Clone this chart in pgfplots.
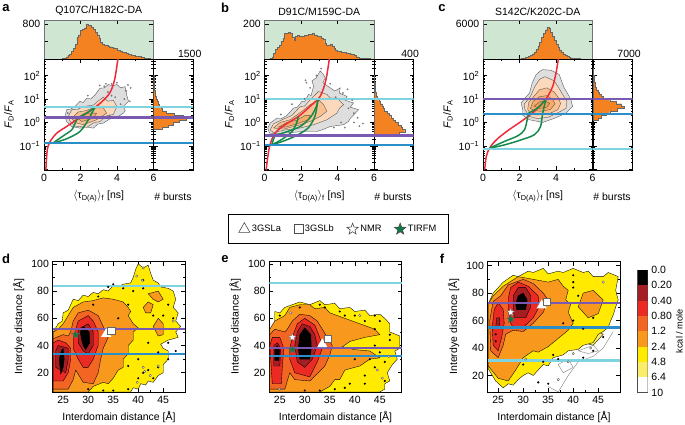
\documentclass[border=0pt]{standalone}
\usepackage{fontspec}
\setmainfont{Liberation Sans}
\usepackage{pgfplots}
\pgfplotsset{compat=1.18}
\usetikzlibrary{plotmarks}
\definecolor{histor}{HTML}{F58220}
\definecolor{histgr}{HTML}{CFE6D3}
\definecolor{cyanl}{HTML}{7FD3E0}
\definecolor{purpl}{HTML}{7A5AB0}
\definecolor{bluel}{HTML}{2A8FC8}
\definecolor{greenl}{HTML}{158A4A}
\definecolor{redl}{HTML}{EE2A3A}
\definecolor{starg}{HTML}{0B7A45}
\definecolor{lvA}{HTML}{FFEA00}
\definecolor{lvB}{HTML}{F8991D}
\definecolor{lvC}{HTML}{F26522}
\definecolor{lvD}{HTML}{EC2A24}
\definecolor{lvE}{HTML}{A51E22}
\definecolor{lvP}{HTML}{F9ED69}
\pgfdeclareplotmark{fstar}{%
  \pgfpathmoveto{\pgfpointpolar{90}{\pgfplotmarksize}}%
  \pgfpathlineto{\pgfpointpolar{126}{.42\pgfplotmarksize}}%
  \pgfpathlineto{\pgfpointpolar{162}{\pgfplotmarksize}}%
  \pgfpathlineto{\pgfpointpolar{198}{.42\pgfplotmarksize}}%
  \pgfpathlineto{\pgfpointpolar{234}{\pgfplotmarksize}}%
  \pgfpathlineto{\pgfpointpolar{270}{.42\pgfplotmarksize}}%
  \pgfpathlineto{\pgfpointpolar{306}{\pgfplotmarksize}}%
  \pgfpathlineto{\pgfpointpolar{342}{.42\pgfplotmarksize}}%
  \pgfpathlineto{\pgfpointpolar{18}{\pgfplotmarksize}}%
  \pgfpathlineto{\pgfpointpolar{54}{.42\pgfplotmarksize}}%
  \pgfpathclose\pgfusepathqfillstroke}
\newcommand{\fs}{\fontsize{10.5}{12}\selectfont}
\newcommand{\fdfa}{\textit{F}\textsubscript{D}/\textit{F}\textsubscript{A}}
\newcommand{\logminors}{0.02,0.03,0.04,0.05,0.06,0.07,0.08,0.09,0.2,0.3,0.4,0.5,0.6,0.7,0.8,0.9,2,3,4,5,6,7,8,9,20,30,40,50,60,70,80,90,200,300,400,500}
\pgfplotsset{
  every axis/.append style={scale only axis,anchor=south west,
    tick align=inside,line width=.9pt,
    /pgf/number format/assume math mode=true,/pgf/number format/1000 sep={},
    major tick length=4pt,minor tick length=2pt,
    tick style={line width=.6pt,black},
    tick label style={font=\fs},label style={font=\fs},title style={font=\fs}},
  pmain/.style={width=109.5pt,height=111pt,xmin=0,xmax=6,ymin=0.0093,ymax=514,
    xtick={0,2,4,6},minor x tick num=1,minor ytick/.expand once=\logminors,
    ytick={0.01,0.1,1,10,100},yticklabels={,10\textsuperscript{−1},10\textsuperscript{0},10\textsuperscript{1},10\textsuperscript{2}},
    ylabel={\fdfa},ylabel style={yshift=-1pt},
    xlabel={$\langle$τ\textsubscript{D(A)}$\rangle$\textsubscript{f} [ns]},xlabel style={yshift=-2pt}},
  ptop/.style={width=109.5pt,height=39pt,xmin=0,xmax=6,ymin=0,
    axis background/.style={fill=histgr},axis line style={draw=black!55},
    xtick={2,4},xticklabels={},minor tick length=0pt,title style={yshift=-5pt}},
  pright/.style={width=39.5pt,height=111pt,xmin=0,ymin=0.0093,ymax=514,minor ytick/.expand once=\logminors,
    yticklabels={},ytick={0.01,0.1,1,10,100},xticklabel pos=upper,x tick style={draw=none},
    xticklabel style={yshift=-2pt},ytick pos=both},
  plow/.style={width=132.5pt,height=130.5pt,xmin=22.9,xmax=49.4,ymin=5.9,ymax=101.7,
    xtick={25,30,35,40,45},ytick={20,40,60,80,100},minor x tick num=1,minor y tick num=1,
    xlabel={Interdomain distance [Å]},ylabel={Interdye distance [Å]},
    ylabel style={yshift=0pt},xlabel style={yshift=-1pt}},
  phist/.style={const plot,fill=histor,draw=black!60,line width=.4pt},
  rhist/.style={fill=histor,draw=black!60,line width=.4pt},
  redc/.style={smooth,draw=redl,line width=1.5pt},
  grec/.style={smooth,draw=greenl,line width=1.5pt},
  hs/.style={fill=#1,draw=none},
  c1/.style={fill=black!13,draw=black!65,line width=.4pt},
  c2/.style={fill=histor!30,draw=black!65,line width=.4pt},
  c3/.style={fill=histor!50,draw=black!65,line width=.4pt},
  c4/.style={fill=histor!68,draw=black!65,line width=.4pt},
  c5/.style={fill=histor!78,draw=black!65,line width=.4pt},
  spk/.style={only marks,mark=*,mark size=.7pt,mark options={draw=black!60,fill=black!25,line width=.3pt}},
  band/.style={fill=#1,draw=black,line width=.35pt},
  bspk/.style={only marks,mark=*,mark size=.55pt,mark options={fill=black,draw=black}},
  wspk/.style={only marks,mark=*,mark size=1.2pt,mark options={fill=white,draw=black!70,line width=.35pt}},
  mtri/.style={only marks,mark=triangle*,mark size=5pt,mark options={fill=white,draw=white}},
  msqr/.style={only marks,mark=square*,mark size=3.6pt,mark options={fill=white,draw=black!60,line width=.3pt}},
  mstw/.style={only marks,mark=fstar,mark size=4.2pt,mark options={fill=white,draw=black!60,line width=.3pt}},
  mstg/.style={only marks,mark=fstar,mark size=4.2pt,mark options={fill=starg,draw=black!60,line width=.3pt}},
}
\begin{document}
\begin{tikzpicture}
\path[use as bounding box] (0pt,0pt) rectangle (685pt,425pt);
\foreach \l/\x/\y in {a/6/417,b/225/417,c/442/417,d/6/166,e/225/166,f/442/166}{\node[font=\bfseries\fontsize{13}{14}\selectfont,inner sep=0pt] at (\x pt,\y pt) {\l};}
\foreach \x in {173,393,612}{\node[font=\fs,inner sep=0pt] at (\x pt,228pt) {\# bursts};}

% ----- panel a
\begin{axis}[ptop,at={(44pt,366pt)},ymax=890,ytick={400,800},yticklabels={,800},title={Q107C/H182C-DA}]
\addplot[phist] coordinates {(0.9,0)(1.0,10)(1.1,25)(1.2,50)(1.3,80)(1.4,110)(1.5,170)(1.6,250)(1.7,340)(1.8,490)(1.9,550)(2.0,650)(2.1,680)(2.2,710)(2.3,800)(2.4,770)(2.5,760)(2.6,720)(2.7,670)(2.8,610)(2.9,550)(3.0,480)(3.1,380)(3.2,340)(3.3,320)(3.4,310)(3.5,300)(3.6,280)(3.7,265)(3.8,255)(3.9,235)(4.0,210)(4.1,190)(4.2,170)(4.3,155)(4.4,145)(4.5,125)(4.6,110)(4.7,100)(4.8,90)(4.9,80)(5.0,65)(5.1,60)(5.2,55)(5.3,40)(5.4,30)(5.5,22)(5.6,15)(5.7,10)(5.8,5)(5.9,3)(6.0,0)} \closedcycle;
\end{axis}
\begin{semilogyaxis}[pmain,at={(44pt,255pt)}]
\addplot[c1] coordinates {(1.15,1.8)(1.24,3.5)(1.45,3.7)(1.7,4.8)(1.97,8)(2.15,7)(2.34,11)(2.55,10)(2.8,15)(2.95,22)(3.07,29)(3.3,30)(3.53,42)(3.75,36)(3.99,42)(4.2,30)(4.44,34)(4.53,15)(4.63,8)(4.35,4.8)(4.45,3.2)(4.35,2.5)(3.9,1.5)(3.6,1.4)(3.25,.94)(2.95,.85)(2.7,.57)(2.3,.65)(1.97,.57)(1.52,.67)(1.24,1.1)} --cycle;
\addplot[c2] coordinates {(1.33,1.8)(1.52,3.5)(1.85,3.6)(2.16,4.8)(2.7,5.5)(2.95,8)(3.25,12)(3.5,8)(3.8,9)(3.99,4.8)(3.8,2.2)(3.4,1.9)(3.07,1.1)(2.7,.95)(2.34,.62)(1.7,.7)(1.43,1.1)} --cycle;
\addplot[c3] coordinates {(1.52,1.5)(1.88,2.8)(2.3,3.2)(2.7,4.2)(3.25,4.2)(3.43,2.5)(2.88,1.3)(2.16,.8)(1.7,1)} --cycle;
\addplot[c4] coordinates {(1.8,1.6)(2.25,2.5)(2.88,2.5)(2.7,1.5)(2.07,1.1)} --cycle;
\addplot[spk] coordinates {(3.5,20)(3.9,12)(4.4,10)(4.6,40)(4.75,30)(3.4,45)(3.7,45)(3.7,14)(4.2,6)(1.3,2.5)(3.6,2)(4.7,8)(3.05,38)(2.4,14)(4,50)(3.3,35)(4.5,22)};
\addplot[redc] coordinates {(.1,.0095)(.18,.067)(.33,.15)(.7,.35)(1.24,.67)(1.78,1.3)(2.33,2.5)(3.05,6.3)(3.6,18)(3.87,68)(4.05,514)};
\addplot[grec] coordinates {(.48,.13)(1.24,.2)(1.97,.41)(2.43,1.3)(2.62,2.5)(2.8,4.5)};
\addplot[grec] coordinates {(.48,.13)(1.15,.3)(1.52,.48)(1.75,1.1)(1.83,1.53)};
\addplot[grec] coordinates {(1.83,1.53)(2.34,2.5)(2.8,4.5)};
\addplot[hs=cyanl] coordinates {(0,4.01)(6,4.01)(6,5.05)(0,5.05)} --cycle;
\addplot[hs=purpl] coordinates {(0,1.43)(6,1.43)(6,1.8)(0,1.8)} --cycle;
\addplot[hs=bluel] coordinates {(0,.116)(6,.116)(6,.146)(0,.146)} --cycle;
\end{semilogyaxis}
\begin{semilogyaxis}[pright,at={(153.5pt,255pt)},xmax=1636,xtick={1500}]
\addplot[rhist] coordinates {(0,.5)(340,.5)(340,.63)(610,.63)(610,.79)(820,.79)(820,1)(1060,1)(1060,1.26)(1364,1.26)(1364,1.58)(1230,1.58)(1230,2)(850,2)(850,2.5)(545,2.5)(545,3.16)(380,3.16)(380,4)(300,4)(300,5)(245,5)(245,6.3)(190,6.3)(190,7.9)(136,7.9)(136,10)(110,10)(110,12.6)(80,12.6)(80,15.8)(70,15.8)(70,20)(55,20)(55,25)(40,25)(40,32)(27,32)(27,50)(14,50)(14,63)(10,63)(10,100)(0,100)} --cycle;
\addplot[hs=cyanl] coordinates {(0,4.01)(1636,4.01)(1636,5.05)(0,5.05)} --cycle;
\addplot[hs=purpl] coordinates {(0,1.43)(1636,1.43)(1636,1.8)(0,1.8)} --cycle;
\addplot[hs=bluel] coordinates {(0,.116)(1636,.116)(1636,.146)(0,.146)} --cycle;
\end{semilogyaxis}

% ----- panel b
\begin{axis}[ptop,at={(264.5pt,366pt)},ymax=222,ytick={100,200},yticklabels={,200},title={D91C/M159C-DA}]
\addplot[phist] coordinates {(0.2,0)(0.3,5)(0.4,12)(0.5,33)(0.6,55)(0.7,66)(0.8,78)(0.9,100)(1.0,117)(1.1,145)(1.2,145)(1.3,150)(1.4,145)(1.5,122)(1.6,105)(1.7,128)(1.8,133)(1.9,131)(2.0,128)(2.1,130)(2.2,133)(2.3,135)(2.4,139)(2.5,140)(2.6,145)(2.7,138)(2.8,133)(2.9,130)(3.0,128)(3.1,120)(3.2,111)(3.3,90)(3.4,78)(3.5,80)(3.6,83)(3.7,70)(3.8,61)(3.9,50)(4.0,44)(4.1,42)(4.2,40)(4.3,39)(4.4,39)(4.5,35)(4.6,32)(4.7,30)(4.8,28)(4.9,20)(5.0,13)(5.1,9)(5.2,7)(5.3,5)(5.4,5)(5.5,3)(5.6,2)(5.8,1)(6,0)} \closedcycle;
\end{axis}
\begin{semilogyaxis}[pmain,at={(264.5pt,255pt)}]
\addplot[c1] coordinates {(.18,.58)(.31,.94)(.68,1.53)(.95,1.5)(1.22,1.98)(1.59,4.1)(1.8,4.5)(2.05,8)(2.2,7.5)(2.41,15.8)(2.55,14)(2.69,35)(2.6,60)(2.83,80)(3.05,160)(3.2,120)(3.33,80)(3.2,50)(3.6,30)(3.85,22)(4.15,30)(4.1,18)(4.52,13)(4.4,9)(4.88,6.8)(4.7,4.5)(5.16,3.5)(4.7,1.5)(4.6,1.1)(4.33,.8)(3.6,.67)(3.2,.5)(2.87,.41)(2.14,.41)(1.41,.37)(.68,.33)(.27,.35)} --cycle;
\addplot[c2] coordinates {(.31,.48)(.49,.87)(1.04,1.39)(1.5,1.98)(1.96,4.8)(2.2,5)(2.5,9.3)(2.96,21)(3.42,15.8)(3.6,11)(3.97,11)(4.33,5.7)(4.1,4)(3.97,2.5)(3.42,1.3)(2.69,.8)(1.96,.58)(1.13,.48)(.49,.37)} --cycle;
\addplot[c3] coordinates {(.49,.58)(.86,1)(1.41,1.3)(2.05,3)(2.5,5.7)(2.96,9.3)(3.24,5.7)(3.42,3)(3.05,1.8)(2.5,1.1)(1.77,.72)(1.04,.52)} --cycle;
\addplot[c4] coordinates {(.77,.63)(1.22,1)(1.77,1.24)(2.23,2)(2.5,2)(2.41,1.3)(1.77,.87)(1.13,.63)} --cycle;
\addplot[spk] coordinates {(2.3,50)(2.5,30)(2.85,100)(3.1,200)(3.4,100)(3.9,12)(4.3,18)(4.8,9)(4.9,2.5)(5.1,1.6)(4.6,4)(4.2,1)(3.8,.6)(5.2,.7)(2.2,10)(1.5,6)(2.25,63)(3.6,45)(4.55,26)(4.9,1)(5.4,.9)(4.4,.6)(.9,2.2)};
\addplot[redc] coordinates {(.09,.0095)(.27,.09)(.58,.35)(1.13,.8)(1.86,1.8)(2.5,4.9)(3.05,13)(3.36,63)(3.55,514)};
\addplot[grec] coordinates {(.4,.11)(1.04,.16)(1.77,.28)(2.41,.6)(2.78,2)(2.92,10)};
\addplot[grec] coordinates {(.58,.28)(1.3,.42)(2,.7)(2.55,1.8)(2.85,5)(2.95,10)};
\addplot[grec] coordinates {(.4,.11)(.5,.2)(.58,.28)};
\addplot[grec] coordinates {(.4,.11)(1,.2)(1.5,.4)(1.75,.9)(1.85,1.8)};
\addplot[hs=cyanl] coordinates {(0,8.9)(6,8.9)(6,11.2)(0,11.2)} --cycle;
\addplot[hs=purpl] coordinates {(0,.25)(6,.25)(6,.314)(0,.314)} --cycle;
\addplot[hs=bluel] coordinates {(0,.098)(6,.098)(6,.123)(0,.123)} --cycle;
\end{semilogyaxis}
\begin{semilogyaxis}[pright,at={(374pt,255pt)},xmax=437,xtick={400}]
\addplot[rhist] coordinates {(0,.25)(44,.25)(44,.316)(280,.316)(280,.4)(340,.4)(340,.5)(315,.5)(315,.63)(300,.63)(300,.79)(266,.79)(266,1)(230,1)(230,1.26)(215,1.26)(215,1.58)(185,1.58)(185,2)(166,2)(166,2.5)(148,2.5)(148,3.16)(118,3.16)(118,4)(104,4)(104,5)(90,5)(90,6.3)(66,6.3)(66,7.9)(52,7.9)(52,10)(37,10)(37,12.6)(26,12.6)(26,20)(18,20)(18,32)(15,32)(15,50)(7,50)(7,100)(0,100)} --cycle;
\addplot[hs=cyanl] coordinates {(0,8.9)(437,8.9)(437,11.2)(0,11.2)} --cycle;
\addplot[hs=purpl] coordinates {(0,.25)(437,.25)(437,.314)(0,.314)} --cycle;
\addplot[hs=bluel] coordinates {(0,.098)(437,.098)(437,.123)(0,.123)} --cycle;
\end{semilogyaxis}

% ----- panel c
\begin{axis}[ptop,at={(483pt,366pt)},ymax=6680,ytick={3000,6000},yticklabels={,6000},title={S142C/K202C-DA}]
\addplot[phist] coordinates {(1.9,0)(2.0,50)(2.1,100)(2.2,170)(2.3,250)(2.4,330)(2.5,500)(2.6,670)(2.7,900)(2.8,1220)(2.9,1650)(3.0,2230)(3.1,2900)(3.2,3670)(3.3,4350)(3.4,5000)(3.5,5430)(3.6,5230)(3.7,4600)(3.8,3900)(3.9,3200)(4.0,2560)(4.1,2000)(4.2,1560)(4.3,1200)(4.4,890)(4.5,650)(4.6,450)(4.7,320)(4.8,220)(4.9,160)(5.0,110)(5.1,80)(5.2,55)(5.3,30)(5.4,20)(5.5,10)(5.6,0)} \closedcycle;
\end{axis}
\begin{semilogyaxis}[pmain,at={(483pt,255pt)}]
\addplot[c1] coordinates {(2.18,3.5)(2.09,6.8)(2.3,11)(2.55,18)(2.7,50)(2.91,110)(3.1,150)(3.27,180)(3.73,170)(4.18,110)(4.3,60)(4.45,30)(4.7,14)(4.82,9.3)(4.91,4.8)(4.55,2.5)(3.91,1.5)(3.27,1)(2.55,1.3)(2.18,2)} --cycle;
\addplot[c2] coordinates {(2.3,3.5)(2.25,6)(2.6,13)(2.85,35)(3.1,70)(3.4,90)(3.9,60)(4.15,30)(4.4,14)(4.6,8)(4.55,4)(4.1,2.6)(3.6,1.7)(3,1.45)(2.55,1.8)} --cycle;
\addplot[c3] coordinates {(2.45,3.5)(2.5,7)(2.85,15)(3.1,25)(3.5,30)(3.9,20)(4.15,11)(4.25,6.3)(4.1,3.5)(3.6,2.3)(3,2.1)(2.6,2.5)} --cycle;
\addplot[c4] coordinates {(2.6,4)(2.75,8)(3.1,12.6)(3.5,14)(3.8,10)(3.95,6.3)(3.7,3.6)(3.2,3)(2.8,3.2)} --cycle;
\addplot[c5] coordinates {(2.8,5)(3.1,7.5)(3.4,8.5)(3.65,6.5)(3.5,4.5)(3.1,4)} --cycle;
\addplot[redc] coordinates {(.09,.0095)(.18,.035)(.36,.08)(.73,.18)(1.36,.45)(2.09,1.1)(2.82,3)(3.45,10)(3.82,35)(4,130)(4.13,514)};
\addplot[grec] coordinates {(.36,.08)(1.18,.11)(2.09,.18)(2.82,.3)(3.15,.66)(3.27,2.5)(3.45,10)};
\addplot[grec] coordinates {(.36,.08)(1.18,.155)(1.91,.27)(2.27,.48)(2.42,1.3)(2.49,2.5)};
\addplot[grec] coordinates {(2.49,2.5)(3,4.2)(3.45,10)};
\addplot[hs=purpl] coordinates {(0,8.9)(6,8.9)(6,11.2)(0,11.2)} --cycle;
\addplot[hs=bluel] coordinates {(0,2.09)(6,2.09)(6,2.64)(0,2.64)} --cycle;
\addplot[hs=cyanl] coordinates {(0,.067)(6,.067)(6,.084)(0,.084)} --cycle;
\end{semilogyaxis}
\begin{semilogyaxis}[pright,at={(593pt,255pt)},xmax=7650,xtick={7000},scaled x ticks=false]
\addplot[rhist] coordinates {(0,1.26)(970,1.26)(970,1.58)(1620,1.58)(1620,2)(2590,2)(2590,2.5)(3240,2.5)(3240,3.16)(4660,3.16)(4660,4)(5960,4)(5960,5)(5500,5)(5500,6.3)(4540,6.3)(4540,7.9)(3240,7.9)(3240,10)(2070,10)(2070,12.6)(1620,12.6)(1620,15.8)(1230,15.8)(1230,20)(970,20)(970,25)(710,25)(710,32)(520,32)(520,40)(390,40)(390,50)(320,50)(320,63)(260,63)(260,79)(190,79)(190,100)(130,100)(130,126)(65,126)(65,200)(0,200)} --cycle;
\addplot[hs=purpl] coordinates {(0,8.9)(7650,8.9)(7650,11.2)(0,11.2)} --cycle;
\addplot[hs=bluel] coordinates {(0,2.09)(7650,2.09)(7650,2.64)(0,2.64)} --cycle;
\addplot[hs=cyanl] coordinates {(0,.067)(7650,.067)(7650,.084)(0,.084)} --cycle;
\end{semilogyaxis}

% ----- legend
\begin{axis}[at={(228pt,181pt)},width=221pt,height=30pt,hide axis,xmin=0,xmax=1,ymin=0,ymax=1,
  legend style={at={(0.5,0.5)},anchor=center,draw=black,line width=1pt,font=\fontsize{9.3}{11}\selectfont,
    legend columns=4,/tikz/every even column/.append style={column sep=11pt},inner xsep=10pt,inner ysep=8pt},
  legend cell align=left]
\addlegendimage{only marks,mark=triangle,mark size=6.5pt,mark options={draw=black!70,line width=.6pt}}
\addlegendentry{3GSLa}
\addlegendimage{only marks,mark=square,mark size=4.5pt,mark options={draw=black!70,line width=.6pt}}
\addlegendentry{3GSLb}
\addlegendimage{only marks,mark=fstar,mark size=6pt,mark options={fill=white,draw=black!70,line width=.6pt}}
\addlegendentry{NMR}
\addlegendimage{only marks,mark=fstar,mark size=6pt,mark options={fill=starg,draw=black!70,line width=.6pt}}
\addlegendentry{TIRFM}
\end{axis}

% ----- panel d
\begin{axis}[plow,at={(52.7pt,33pt)}]
\addplot[band=lvA] coordinates {(23,5.9)(38.5,5.9)(39,9)(40,8)(40.5,12)(41.5,11)(42,14)(43,13)(44,18)(45,20)(45,26)(46,30)(46,36)(45,38)(44.5,41)(46,44)(48,46)(47.5,50)(48.5,54)(47.5,58)(48,64)(47,68)(47.5,74)(47,80)(46,82)(44.5,83)(44,86)(43,88)(42.5,93)(42,99)(41,97)(40,100)(39.5,96)(39,90)(38.5,86)(37,85)(36,83)(35,84)(34,80)(33,81)(32,78)(31,79)(30,76)(29,77)(28,73)(27,74)(26.5,70)(26,66)(25,64)(24.8,58)(24,56)(23,50)} --cycle;
\addplot[band=lvB] coordinates {(23,5.9)(30,5.9)(31,10)(33,13)(34,12)(35,16)(36,22)(37,24)(37,30)(38,34)(38,40)(39,44)(39,50)(40,53)(39,56)(38,62)(38.5,65)(38,68)(37,72)(35,74)(33,75)(31,73)(29,72)(27,68)(26,62)(25,56)(24,52)(23,50)} --cycle;
\addplot[band=lvB] coordinates {(41,68)(42,72)(43,70)(42.5,64)(41.5,64)} --cycle;
\addplot[band=lvB] coordinates {(43,54)(44,60)(45,56)(45,48)(44,47)} --cycle;
\addplot[band=lvB] coordinates {(42,78)(44,80)(45,74)(44,72)(43,74)} --cycle;
\addplot[band=lvC] coordinates {(23,8)(26,8)(27,15)(27.5,22)(29,13)(31,12)(32,20)(32.5,30)(33,38)(34,46)(33,54)(32,62)(30,66)(28,64)(27,58)(26.5,50)(26,47)(25,48)(23,45)} --cycle;
\addplot[band=lvD] coordinates {(23,14)(25,14)(26,20)(26.5,30)(26.5,38)(25.5,42)(24,44)(23,42)} --cycle;
\addplot[band=lvD] coordinates {(27,45)(27.5,52)(28,58)(30,62)(31,58)(32,50)(32,40)(31,30)(30,24)(29,24)(28,30)(27,38)} --cycle;
\addplot[band=lvE] coordinates {(23.5,24)(25.5,20)(26,30)(26,38)(24,40)(23.5,36)} --cycle;
\addplot[band=lvE] coordinates {(28,42)(28,52)(30,56)(31,50)(31,40)(30,34)(29,36)} --cycle;
\addplot[band=black] coordinates {(24.5,19)(25,24)(25.2,30)(25,38)(24.6,36)(24.2,30)} --cycle;
\addplot[band=black] coordinates {(28.7,44)(28.4,50)(29,54)(30.2,50)(30.3,42)(29.5,37)(29,40)} --cycle;
\addplot[bspk] coordinates {(34,83)(35,85)(37,82)(39,80)(41,88)(43,62)(46,42)(47.5,36)(41,20)(42,22)(43,16)(44,24)(40,16)(38,8)(35,7)(33,7)(47,60)(46,70)(31,70)(36,60)(42,42)(40,30)(38,25)(30,8)(41,82)(38,70)(44,35)(46,30)(45,62)(32,76)};
\addplot[wspk] coordinates {(39.7,91)(41,97)(40.8,88)(41.3,21)(42.4,18)(39.8,13)(44,25)(47,58)(41,24)};
\addplot[hs=cyanl] coordinates {(22.9,82.65)(49.4,82.65)(49.4,84.35)(22.9,84.35)} --cycle;
\addplot[hs=purpl] coordinates {(22.9,51.15)(49.4,51.15)(49.4,52.85)(22.9,52.85)} --cycle;
\addplot[hs=bluel] coordinates {(22.9,33.15)(49.4,33.15)(49.4,34.85)(22.9,34.85)} --cycle;
\addplot[mtri] coordinates {(33.6,48.5)};
\addplot[msqr] coordinates {(34.6,51)};
\addplot[mstg] coordinates {(27.5,48)};
\end{axis}

% ----- panel e
\begin{axis}[plow,at={(269.3pt,33pt)}]
\addplot[band=lvA] coordinates {(23,5.9)(45,5.9)(46,8)(46,12)(47,14)(46.5,20)(47.5,26)(48.5,30)(48,36)(49,38)(49,47)(47,50)(47,56)(46,60)(45,63)(43,62)(42,66)(40,65)(39,68)(37,67)(36,71)(34,70)(33,73)(31,70)(29,72)(27.5,70)(26,68)(25,64)(24,65)(24,55)(23,50)} --cycle;
\addplot[band=lvB] coordinates {(23,5.9)(33,5.9)(35,10)(36,15)(37,15)(38,22)(41,25)(43,30)(45,31)(43,36)(40,37)(37.5,39)(39,43)(42,46)(45,48)(44,52)(41,56)(38,60)(35,64)(34,68)(32,67)(31,70)(29,70)(27,68)(26,62)(24,58)(23,52)} --cycle;
\addplot[band=lvC] coordinates {(23,8)(26,8)(26.5,14)(27,20)(28,15)(31,14)(34,25)(35,33)(35.5,40)(34.5,46)(33.5,52)(32.5,58)(31,62)(29,63)(27.5,58)(26.5,52)(26,50)(24,52)(23,48)} --cycle;
\addplot[band=lvD] coordinates {(23.5,12)(25.3,12)(25.5,24)(25.8,38)(25,46)(23.5,46)(23,40)} --cycle;
\addplot[band=lvD] coordinates {(27,30)(28,20)(31,17)(32.5,28)(33.5,38)(33,46)(32,55)(30,60)(28.5,56)(27.5,46)(27,38)} --cycle;
\addplot[band=lvE] coordinates {(23.8,25)(25,25)(25.2,38)(24.5,42)(23.8,40)} --cycle;
\addplot[band=lvE] coordinates {(28.5,28)(30,24)(31.5,30)(32.5,40)(32,48)(31,54)(29.5,56)(28.5,50)(28,40)} --cycle;
\addplot[band=black] coordinates {(24,29)(24.8,29)(25,36)(24.5,40)(24,38)} --cycle;
\addplot[band=black] coordinates {(29,30)(31,30)(31.3,38)(31.2,48)(30,53)(29,48)(28.7,38)} --cycle;
\addplot[bspk] coordinates {(34,68)(33,70)(38,62)(42,58)(44,62)(45,58)(44,40)(45,35)(46,28)(44,24)(42,18)(39,12)(36,8)(33,7)(30,7)(25,8)(46,14)(40,30)(47,48)(25,62)(29,68)(43,30)(37,65)(40,62)(47,44)(42,12)(38,9)(44,52)};
\addplot[wspk] coordinates {(27.2,64)(41,62)(44.5,22)(45.5,16)(46.8,32)(25,8)};
\addplot[hs=cyanl] coordinates {(22.9,85.15)(49.4,85.15)(49.4,86.85)(22.9,86.85)} --cycle;
\addplot[hs=purpl] coordinates {(22.9,37.15)(49.4,37.15)(49.4,38.85)(22.9,38.85)} --cycle;
\addplot[hs=bluel] coordinates {(22.9,31.65)(49.4,31.65)(49.4,33.35)(22.9,33.35)} --cycle;
\addplot[mtri] coordinates {(33.5,41)};
\addplot[msqr] coordinates {(34.5,45)};
\addplot[mstw] coordinates {(27.5,46)};
\addplot[mstg] coordinates {(27.5,37)};
\end{axis}

% ----- panel f
\begin{axis}[plow,at={(487.7pt,33pt)},ymin=8,ymax=103]
\addplot[draw=black!55,line width=.35pt] coordinates {(35,12)(37,8)(39,20)(41,30)(44,34)(46,40)(48,52)};
\addplot[draw=black!55,line width=.35pt] coordinates {(37,28)(38,22)(40,26)(39,32)(37,28)};
\addplot[draw=black!55,line width=.35pt] coordinates {(41,38)(43,36)(45,38)(44,42)(41,38)};
\addplot[band=lvP] coordinates {(42,44)(44,42)(45,46)(46,50)(45,52)(43,48)} --cycle;
\addplot[band=lvA] coordinates {(23,25)(24.5,16)(26,11)(27,14)(28,13)(29,17)(30,20)(31,22)(32,20)(33,24)(34,28)(35,27)(36,33)(38,35)(39,38)(41,39)(42,42)(44,44)(45,50)(46,52)(47,55)(47.5,60)(48,64)(48.5,70)(49,75)(48.5,82)(49,92)(47,95)(46,92)(44,92)(43,96)(42,95)(40,98)(38,95)(37,96)(35,94)(34,98)(32,95)(31,96)(29,92)(28,93)(26,88)(25,84)(24,80)(23,72)} --cycle;
\addplot[band=lvB] coordinates {(23,27)(25,18)(27,16)(28.5,24)(30,33)(32,38)(33,37)(35,41)(37,47)(38,50)(39,53)(40,58)(39,66)(39.5,72)(38.5,75)(39,82)(38,85)(37,90)(35,88)(32,90)(29,92)(26,85)(24,78)(23,72)} --cycle;
\addplot[band=lvB] coordinates {(41,70)(43,62)(45,65)(46,75)(44,82)(42,80)} --cycle;
\addplot[band=lvC] coordinates {(23.5,38)(25,33)(26,42)(26.5,50)(28,53)(30,52)(32,58)(34,66)(35,75)(34,80)(32,87)(30,90)(27,86)(25.5,78)(24,74)(23.3,60)} --cycle;
\addplot[band=lvD] coordinates {(24,42)(25,38)(25.7,48)(26.2,58)(26,68)(25,73)(24.2,68)(23.8,55)} --cycle;
\addplot[band=lvD] coordinates {(27.5,58)(28,55)(30,55)(32,62)(33.2,70)(33,78)(31,85)(29,88)(27.5,84)(27,76)(27,66)} --cycle;
\addplot[band=lvE] coordinates {(24.5,55)(25.2,55)(25.3,62)(24.7,62)} --cycle;
\addplot[band=lvE] coordinates {(28.2,62)(30.5,62)(31.5,70)(31.5,78)(30.5,84)(29,84)(28,78)(28,70)} --cycle;
\addplot[band=black] coordinates {(28.7,68)(30.5,68)(30.8,75)(30,80)(29,78)(28.5,72)} --cycle;
\addplot[bspk] coordinates {(40,93)(40,88)(40,84)(41,78)(40,60)(38,58)(24.5,50)(24.5,45)(36,35)(34,30)(44,62)(42,54)(30,28)(33,15)(35,14)(37,32)(46,48)(44,38)(42,33)};
\addplot[wspk] coordinates {(30.5,32)(39,30)(37,17)(40,36)(43.5,40)(46,88)};
\addplot[hs=purpl] coordinates {(22.9,72.15)(49.4,72.15)(49.4,73.85)(22.9,73.85)} --cycle;
\addplot[hs=bluel] coordinates {(22.9,54.15)(49.4,54.15)(49.4,55.85)(22.9,55.85)} --cycle;
\addplot[hs=cyanl] coordinates {(22.9,30.15)(49.4,30.15)(49.4,31.85)(22.9,31.85)} --cycle;
\addplot[mtri] coordinates {(33.7,71)};
\addplot[msqr] coordinates {(34.7,74)};
\addplot[mstw] coordinates {(27.5,66)};
\addplot[mstg] coordinates {(27.5,61)};
\end{axis}

% ----- colour bar
\begin{axis}[at={(637.7pt,32.5pt)},width=10pt,height=122.5pt,xmin=0,xmax=1,ymin=0,ymax=8,
  xtick=\empty,ytick={0,...,8},yticklabels={10,6.4,4.8,2.4,1.2,0.80,0.40,0.20,0.0},
  yticklabel pos=right,ytick style={draw=none},axis line style={draw=black!70},
  ylabel={kcal / mole},ylabel near ticks,ylabel style={font=\fontsize{9.2}{11}\selectfont,yshift=3pt}]
\addplot[fill=white,draw=none] coordinates {(0,0)(1,0)(1,1)(0,1)} --cycle;
\addplot[fill=lvP,draw=none] coordinates {(0,1)(1,1)(1,2)(0,2)} --cycle;
\addplot[fill=lvA,draw=none] coordinates {(0,2)(1,2)(1,3)(0,3)} --cycle;
\addplot[fill=lvB,draw=none] coordinates {(0,3)(1,3)(1,4)(0,4)} --cycle;
\addplot[fill=lvC,draw=none] coordinates {(0,4)(1,4)(1,5)(0,5)} --cycle;
\addplot[fill=lvD,draw=none] coordinates {(0,5)(1,5)(1,6)(0,6)} --cycle;
\addplot[fill=lvE,draw=none] coordinates {(0,6)(1,6)(1,7)(0,7)} --cycle;
\addplot[fill=black,draw=none] coordinates {(0,7)(1,7)(1,8)(0,8)} --cycle;
\end{axis}
\end{tikzpicture}
\end{document}
